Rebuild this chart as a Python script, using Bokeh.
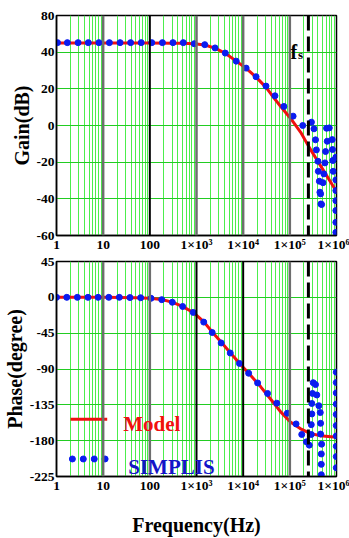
from bokeh.plotting import figure
from bokeh.layouts import column
from bokeh.models import Range1d, FixedTicker, Span, Label
from bokeh.embed import file_html
from bokeh.resources import INLINE

# ---- Bode data: averaged model vs. SIMPLIS simulation ----
fs = 250e3  # switching frequency (Hz)

model_gain_freq = [1, 10, 100, 300, 500, 900, 1500, 2500, 4140, 7100, 11600, 18900,
                   30900, 39400, 64400, 105000, 171000, 258000, 388000, 583000, 877000, 1000000]
model_gain_db = [45, 45, 45, 44.9, 44.8, 44.6, 43.9, 42.2, 39.4, 35.1, 31.2, 26.4,
                 20.8, 17.2, 10.2, 3.7, -3.7, -11.8, -19.1, -26.4, -33.7, -36.4]

model_phase_freq = [1, 10, 50, 100, 180, 300, 500, 850, 1430, 2170, 3400, 5530, 9000,
                    14700, 23800, 39000, 63000, 103000, 167000, 270000, 450000, 1000000]
model_phase_deg = [0, 0, -0.4, -1.1, -2.8, -6.0, -11.3, -19.0, -30.5, -43.5, -56.5, -70.8,
                   -85.1, -98.6, -112.4, -128.0, -143.5, -156.6, -164.8, -170.9, -173.7, -175.8]

sim_gain_freq = [1.05, 1.71, 2.9, 4.8, 8.1, 13.6, 23, 38.8, 65.3, 110, 186, 313, 521,
                 893, 1503, 2500, 4140, 7100, 11580, 18900, 30850, 48000, 74500, 117500, 189000,
                 290000, 329000, 355000, 370000, 400000, 408000, 429000, 441000, 464000,
                 456000, 479000,
                 612000, 700000, 634000, 810000, 583000, 822000, 564000, 834000, 537000, 850000, 513000,
                 970000, 970000, 970000, 970000, 970000, 970000, 970000]
sim_gain_db = [45.2, 45.2, 45.2, 45.2, 45.2, 45.2, 45.2, 45.2, 45.2, 45.2, 45.2, 45.2, 45.2,
               44.6, 44.1, 42.3, 39.5, 35.1, 31.3, 26.6, 21.5, 16.2, 10.4, 5.1, 0.0,
               1.8, -1.8, -7.8, -13.3, -19.5, -25.0, -30.4, -36.4, -42.8,
               -37.3, -43.1,
               -1.5, -1.3, -8.6, -7.7, -14.2, -13.1, -20.4, -19.1, -26.4, -25.0, -31.2,
               -17.3, -29.7, -35.5, -41.0, -46.4, -52.8, -58.3]

sim_phase_freq = [1.0, 1.66, 2.8, 4.72, 7.8, 13.2, 22.2, 37.5, 63.5, 106, 180, 303, 505,
                  850, 1430, 2170, 3380, 5280, 8330, 13100, 20400, 33300, 52500, 88600,
                  136000, 180000, 227000, 261000,
                  288000, 288000, 296000, 296000, 306000, 317000,
                  355000, 378000, 419000, 449000, 456000, 456000, 479000, 472000, 472000, 472000,
                  990000, 990000, 990000, 990000, 990000, 990000, 990000, 990000, 990000, 990000]
sim_phase_deg = [0, 0, 0, 0, 0, 0, 0, -0.3, -0.5, -1.2, -2.9, -6.2, -11.5,
                 -18.9, -31.1, -44.2, -57.3, -69.9, -83.0, -95.3, -107.5, -120.7, -132.9, -145.5,
                 -159.0, -172.2, -181.5, -185.6,
                 -172.2, -159.9, -146.4, -133.3, -120.7, -107.2,
                 -109.6, -122.6, -136.1, -144.7, -158.2, -171.7, -184.4, -196.7, -209.7, -222.8,
                 -94, -107, -120, -134, -147, -161, -174, -187, -200, -214]

decades = [1, 10, 100, 1000, 10000, 100000, 1000000]
decade_labels = ["1", "10", "100", "1\u00d710\u00b3", "1\u00d710\u2074", "1\u00d710\u2075", "1\u00d710\u2076"]
minor_freqs = [m * d for d in decades[:-1] for m in range(2, 10)]

gain_ticks = [-60, -40, -20, 0, 20, 40, 60]
gain_tick_labels = ["-60", "-40", "-20", "0", "20", "40", "80"]
phase_ticks = [-225, -180, -135, -90, -45, 0, 45]
phase_tick_labels = ["-225", "-180", "-135", "-90", "-45", "0", "45"]

# colours of the inner decade grid lines (10 ... 1e5) for each panel
gain_decade_colors = ["#6e6e6e", "#000000", "#6e6e6e", "#6e6e6e", "#6e6e6e"]
phase_decade_colors = ["#6e6e6e", "#6e6e6e", "#000000", "#000000", "#6e6e6e"]

FONT = "Liberation Serif"
RED = "#f01010"
BLUE = "#0a1cf0"


def make_panel(height, yrange, yticks, ylabels, ylabel, decade_colors, top, bottom):
    p = figure(width=349, height=height, x_axis_type="log",
               x_range=Range1d(1, 1e6), y_range=Range1d(*yrange),
               output_backend="svg", toolbar_location=None,
               min_border_left=54, min_border_right=13,
               min_border_top=top, min_border_bottom=bottom)
    p.background_fill_color = "white"
    p.border_fill_color = "white"
    p.outline_line_color = "black"
    p.outline_line_width = 1.5

    p.xaxis.ticker = FixedTicker(ticks=decades, minor_ticks=minor_freqs)
    p.xaxis.major_label_overrides = {d: s for d, s in zip(decades, decade_labels)}
    p.yaxis.ticker = FixedTicker(ticks=yticks)
    p.yaxis.major_label_overrides = {t: s for t, s in zip(yticks, ylabels)}

    for ax in (p.xaxis, p.yaxis):
        ax.major_label_text_font = FONT
        ax.major_label_text_font_style = "bold"
        ax.major_label_text_font_size = "13.5px"
        ax.major_label_text_color = "black"
        ax.major_tick_line_color = None
        ax.minor_tick_line_color = None
        ax.major_tick_out = 0
        ax.major_tick_in = 0
        ax.minor_tick_out = 0
        ax.minor_tick_in = 0
        ax.axis_line_color = "black"
        ax.axis_line_width = 1.5
        ax.axis_label_text_font = FONT
        ax.axis_label_text_font_style = "bold"
        ax.axis_label_text_font_size = "20px"
        ax.axis_label_text_color = "black"
    p.yaxis.major_label_standoff = 2
    p.yaxis.axis_label = ylabel
    p.yaxis.axis_label_standoff = 1
    p.xaxis.major_label_standoff = 1

    p.xgrid.grid_line_color = None
    p.xgrid.minor_grid_line_color = "#4cee4c"
    p.xgrid.minor_grid_line_width = 1
    p.ygrid.grid_line_color = "#22cc22"
    p.ygrid.grid_line_width = 1.2

    for d, c in zip(decades[1:-1], decade_colors):
        p.add_layout(Span(location=d, dimension="height", line_color=c,
                          line_width=2 if c == "#000000" else 2.5))

    p.add_layout(Span(location=fs, dimension="height", line_color="black",
                      line_width=3, line_dash="15 6"))
    return p


# ---- gain panel ----
pg = make_panel(254, (-60, 60), gain_ticks, gain_tick_labels, "Gain(dB)",
                gain_decade_colors, 15, 19)
pg.line(model_gain_freq, model_gain_db, line_color=RED, line_width=3)
pg.scatter(sim_gain_freq, sim_gain_db, size=6, fill_color=BLUE, line_color=BLUE)
pg.add_layout(Label(x=1.03e5, y=40, text="f", text_font=FONT, text_font_style="bold",
                    text_font_size="20px", text_baseline="alphabetic", text_color="black"))
pg.add_layout(Label(x=1.5e5, y=38.5, text="s", text_font=FONT, text_font_style="bold",
                    text_font_size="13px", text_baseline="alphabetic", text_color="black"))

# ---- phase panel ----
pp = make_panel(284, (-225, 45), phase_ticks, phase_tick_labels, "Phase(degree)",
                phase_decade_colors, 7, 59)
pp.xaxis.axis_label = "Frequency(Hz)"
pp.xaxis.axis_label_standoff = 18
pp.line(model_phase_freq, model_phase_deg, line_color=RED, line_width=3)
pp.scatter(sim_phase_freq, sim_phase_deg, size=6, fill_color=BLUE, line_color=BLUE)

# legend drawn inside the phase panel
pp.line([2.0, 12.2], [-153, -153], line_color=RED, line_width=3)
pp.scatter([2.19, 3.75, 6.44, 11.0], [-203, -203, -203, -203], size=6,
           fill_color=BLUE, line_color=BLUE)
pp.add_layout(Label(x=27, y=-159, text="Model", text_font=FONT, text_font_style="bold",
                    text_font_size="21px", text_baseline="alphabetic", text_color=RED))
pp.add_layout(Label(x=34.5, y=-213, text="SIMPLIS", text_font=FONT, text_font_style="bold",
                    text_font_size="21px", text_baseline="alphabetic", text_color="#1414c8"))

layout = column(pg, pp, spacing=0)
open("out.html", "w").write(file_html(layout, INLINE))
